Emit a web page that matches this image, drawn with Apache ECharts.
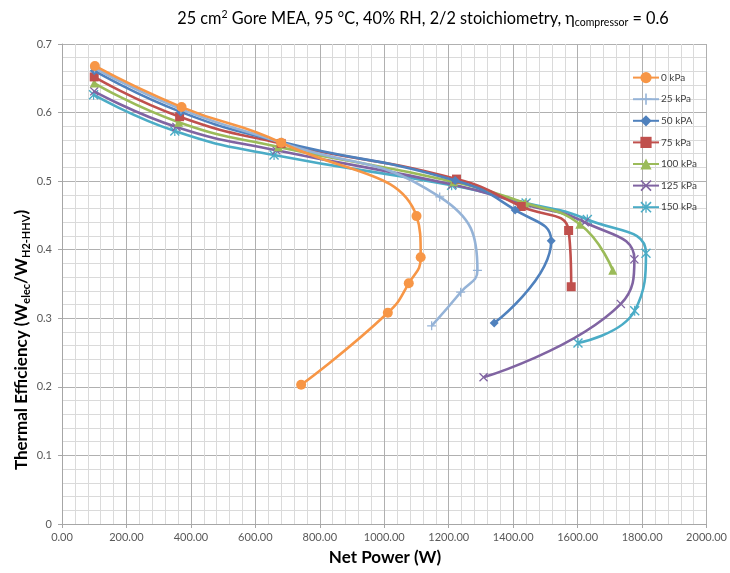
<!DOCTYPE html>
<html>
<head>
<meta charset="utf-8">
<script src="https://cdn.jsdelivr.net/npm/echarts@6/dist/echarts.min.js"></script>
<style>html,body{margin:0;padding:0;background:#fff}#c{width:730px;height:573px}</style>
</head>
<body>
<div id="c"></div>
<script>
// ---- data ----
const seriesNames = ['0 kPa', '25 kPa', '50 kPA', '75 kPa', '100 kPa', '125 kPa', '150 kPa'];
const power0   = [102, 371, 680, 1100, 1113, 1076, 1011, 742];
const eff0     = [0.668, 0.608, 0.556, 0.449, 0.389, 0.351, 0.308, 0.203];
const power25  = [101, 369, 681, 1172, 1289, 1237, 1147];
const eff25    = [0.665, 0.605, 0.556, 0.477, 0.370, 0.338, 0.289];
const power50  = [100, 368, 682, 1220, 1406, 1518, 1341];
const eff50    = [0.661, 0.601, 0.557, 0.501, 0.458, 0.413, 0.293];
const power75  = [100, 365, 680, 1224, 1425, 1572, 1580];
const eff75    = [0.652, 0.594, 0.555, 0.503, 0.463, 0.428, 0.346];
const power100 = [100, 362, 671, 1215, 1437, 1607, 1709];
const eff100   = [0.643, 0.586, 0.550, 0.499, 0.468, 0.437, 0.370];
const power125 = [100, 355, 665, 1212, 1435, 1622, 1776, 1734, 1308];
const eff125   = [0.631, 0.579, 0.545, 0.495, 0.466, 0.440, 0.386, 0.321, 0.214];
const power150 = [98, 350, 658, 1209, 1440, 1630, 1812, 1777, 1601];
const eff150   = [0.626, 0.573, 0.538, 0.494, 0.468, 0.444, 0.395, 0.311, 0.264];
const xTicks = [0, 200, 400, 600, 800, 1000, 1200, 1400, 1600, 1800, 2000];
const yTicks = [0, 0.1, 0.2, 0.3, 0.4, 0.5, 0.6, 0.7];

const powers = [power0, power25, power50, power75, power100, power125, power150];
const effs = [eff0, eff25, eff50, eff75, eff100, eff125, eff150];
const colors = ['#F79646', '#95B3D7', '#4F81BD', '#C0504D', '#9BBB59', '#8064A2', '#4BACC6'];
const plusPath = 'path://M4.3,0H5.7V4.3H10V5.7H5.7V10H4.3V5.7H0V4.3H4.3Z';
const xPath = 'path://M0,1L1,0L5,4L9,0L10,1L6,5L10,9L9,10L5,6L1,10L0,9L4,5Z';
const starPath = 'path://M0,1L1,0L5,4L9,0L10,1L6,5L10,9L9,10L5,6L1,10L0,9L4,5Z M4.4,0H5.6V10H4.4Z';
const symbols = ['circle', plusPath, 'diamond', 'rect', 'triangle', xPath, starPath];
const symSizes = [10, 9, 9, 9, 9, 9, 10];

const FONT = 'Lato, "Open Sans", sans-serif';

const series = seriesNames.map((n, i) => ({
  name: n,
  type: 'line',
  smooth: 0.5,
  data: powers[i].map((p, k) => [p, effs[i][k]]),
  symbol: symbols[i],
  symbolSize: symSizes[i],
  showAllSymbol: true,
  lineStyle: { width: 2.6, color: colors[i] },
  itemStyle: { color: colors[i] },
  z: 10 - i,
  animation: false
}));

const chart = echarts.init(document.getElementById('c'), null, { renderer: 'canvas' });
chart.setOption({
  animation: false,
  color: colors,
  grid: { left: 62, right: 21, top: 44, bottom: 49, containLabel: false },
  xAxis: {
    type: 'value', min: xTicks[0], max: xTicks[xTicks.length - 1], interval: 200,
    axisLine: { show: true, lineStyle: { color: '#a6a6a6' } },
    axisTick: { show: true, length: 4, lineStyle: { color: '#a6a6a6' } },
    axisLabel: { color: '#595959', fontSize: 11, fontFamily: FONT, margin: 8,
      formatter: v => v.toFixed(2) },
    splitLine: { show: true, lineStyle: { color: '#b0b0b0', width: 1 } },
    minorTick: { show: false, splitNumber: 5 },
    minorSplitLine: { show: true, lineStyle: { color: '#dadada', width: 1 } }
  },
  yAxis: {
    type: 'value', min: yTicks[0], max: yTicks[yTicks.length - 1], interval: 0.1,
    axisLine: { show: true, lineStyle: { color: '#a6a6a6' } },
    axisTick: { show: true, length: 4, lineStyle: { color: '#a6a6a6' } },
    axisLabel: { color: '#595959', fontSize: 11, fontFamily: FONT, margin: 10,
      formatter: v => (Math.round(v * 10) / 10).toString() },
    splitLine: { show: true, lineStyle: { color: '#b0b0b0', width: 1 } },
    minorTick: { show: false, splitNumber: 5 },
    minorSplitLine: { show: true, lineStyle: { color: '#dadada', width: 1 } }
  },
  legend: {
    orient: 'vertical', left: 627, top: 67,
    itemWidth: 26, itemHeight: 14, itemGap: 10.4,
    textStyle: { color: '#404040', fontSize: 10, fontFamily: FONT, padding: [0, 0, 0, -3] },
    data: seriesNames
  },
  graphic: [
    {
      type: 'text', x: 423, y: 19,
      style: {
        text: '{a|25 cm}{s|2}{a| Gore MEA, 95 °C, 40% RH, 2/2 stoichiometry, η}{b|compressor}{a| = 0.6}',
        align: 'center', verticalAlign: 'middle',
        rich: {
          a: { fontSize: 16.3, fontFamily: FONT, color: '#000' },
          s: { fontSize: 10.5, fontFamily: FONT, color: '#000', verticalAlign: 'top', padding: [0, 0, 8, 0] },
          b: { fontSize: 10.5, fontFamily: FONT, color: '#000', verticalAlign: 'bottom', padding: [8, 0, 0, 0] }
        }
      }
    },
    {
      type: 'text', x: 22, y: 340, rotation: Math.PI / 2,
      style: {
        text: '{a|Thermal Efficiency (W}{b|elec}{a|/W}{b|H2-HHV}{a|)}',
        align: 'center', verticalAlign: 'middle',
        rich: {
          a: { fontSize: 17, fontWeight: 'bold', fontFamily: FONT, color: '#000' },
          b: { fontSize: 11, fontWeight: 'bold', fontFamily: FONT, color: '#000', verticalAlign: 'bottom', padding: [8, 0, 0, 0] }
        }
      }
    },
    {
      type: 'text', x: 385, y: 558,
      style: {
        text: 'Net Power (W)', align: 'center', verticalAlign: 'middle',
        fontSize: 17, fontWeight: 'bold', fontFamily: FONT, fill: '#000'
      }
    }
  ],
  series: series
});
</script>
</body>
</html>
